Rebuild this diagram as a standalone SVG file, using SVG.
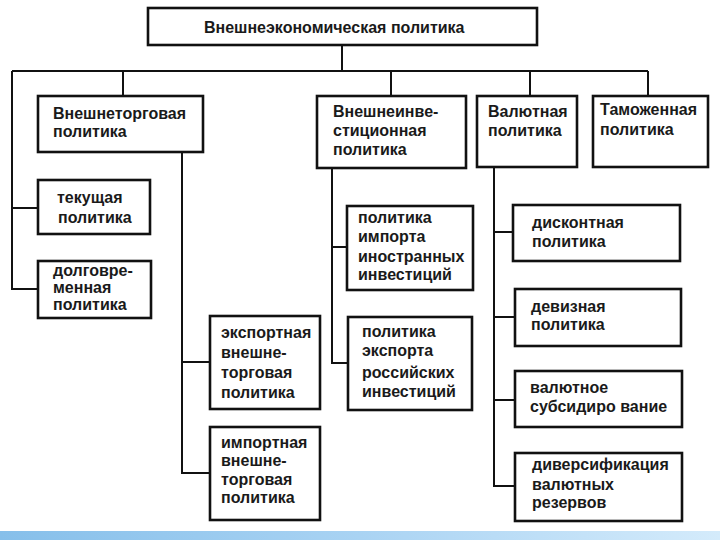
<svg xmlns="http://www.w3.org/2000/svg" width="720" height="540" viewBox="0 0 720 540">
<defs>
<linearGradient id="bar" x1="0" y1="0" x2="1" y2="0">
<stop offset="0" stop-color="#86bfea"/>
<stop offset="0.5" stop-color="#a9d3f3"/>
<stop offset="1" stop-color="#d4ebfb"/>
</linearGradient>
<style>
.box{fill:#fff;stroke:#111;stroke-width:2.6}
.t{font-family:"Liberation Sans",Arial,sans-serif;font-weight:bold;font-size:16px;fill:#1a1a1a}
.c{fill:none;stroke:#111;stroke-width:2}
</style>
</defs>
<rect width="720" height="540" fill="#fff"/>
<rect x="0" y="531" width="720" height="9" fill="url(#bar)"/>
<g id="connectors">
<path class="c" d="M342 45V71M12 71H648M123 71V96M391 71V96M530 71V96M648 71V96"/>
<path class="c" d="M12 71V289H38M12 208H38"/>
<path class="c" d="M182 152V473H210M182 362H210"/>
<path class="c" d="M332 168V363H348M332 247H347"/>
<path class="c" d="M494 167V486H515M494 232H513M494 317H515M494 400H515"/>
</g>
<g id="root"><rect class="box" x="148" y="8" width="389" height="37"/><text class="t" x="204" y="33">Внешнеэкономическая политика</text></g>
<g id="trade"><rect class="box" x="38" y="96" width="165" height="56"/><text class="t" x="53" y="119">Внешнеторговая</text><text class="t" x="53" y="137">политика</text></g>
<g id="invest"><rect class="box" x="317" y="96" width="149" height="72"/><text class="t" x="333" y="117">Внешнеинве-</text><text class="t" x="333" y="136">стиционная</text><text class="t" x="333" y="155">политика</text></g>
<g id="currency"><rect class="box" x="477" y="96" width="100" height="71"/><text class="t" x="488" y="117">Валютная</text><text class="t" x="488" y="136">политика</text></g>
<g id="customs"><rect class="box" x="593" y="96" width="115" height="71"/><text class="t" x="600" y="115">Таможенная</text><text class="t" x="600" y="135">политика</text></g>
<g id="current"><rect class="box" x="38" y="180" width="112" height="54"/><text class="t" x="57" y="203">текущая</text><text class="t" x="58" y="223">политика</text></g>
<g id="longterm"><rect class="box" x="38" y="261" width="113" height="57"/><text class="t" x="53" y="276">долговре-</text><text class="t" x="53" y="293">менная</text><text class="t" x="53" y="310">политика</text></g>
<g id="export"><rect class="box" x="210" y="316" width="110" height="93"/><text class="t" x="221" y="338">экспортная</text><text class="t" x="221" y="358">внешне-</text><text class="t" x="221" y="378">торговая</text><text class="t" x="221" y="398">политика</text></g>
<g id="import"><rect class="box" x="210" y="427" width="110" height="93"/><text class="t" x="221" y="448">импортная</text><text class="t" x="221" y="466">внешне-</text><text class="t" x="221" y="485">торговая</text><text class="t" x="221" y="503">политика</text></g>
<g id="invimport"><rect class="box" x="347" y="206" width="126" height="84"/><text class="t" x="358" y="223">политика</text><text class="t" x="358" y="242">импорта</text><text class="t" x="358" y="262">иностранных</text><text class="t" x="358" y="280">инвестиций</text></g>
<g id="invexport"><rect class="box" x="348" y="317" width="124" height="93"/><text class="t" x="362" y="337">политика</text><text class="t" x="362" y="356">экспорта</text><text class="t" x="362" y="378">российских</text><text class="t" x="362" y="397">инвестиций</text></g>
<g id="discount"><rect class="box" x="513" y="205" width="167" height="56"/><text class="t" x="532" y="228">дисконтная</text><text class="t" x="532" y="247">политика</text></g>
<g id="devise"><rect class="box" x="515" y="289" width="166" height="57"/><text class="t" x="531" y="312">девизная</text><text class="t" x="531" y="330">политика</text></g>
<g id="subsidy"><rect class="box" x="515" y="371" width="167" height="56"/><text class="t" x="530" y="393">валютное</text><text class="t" x="530" y="412">субсидиро вание</text></g>
<g id="divers"><rect class="box" x="515" y="453" width="167" height="68"/><text class="t" x="532" y="470">диверсификация</text><text class="t" x="532" y="490">валютных</text><text class="t" x="532" y="508">резервов</text></g>
</svg>
